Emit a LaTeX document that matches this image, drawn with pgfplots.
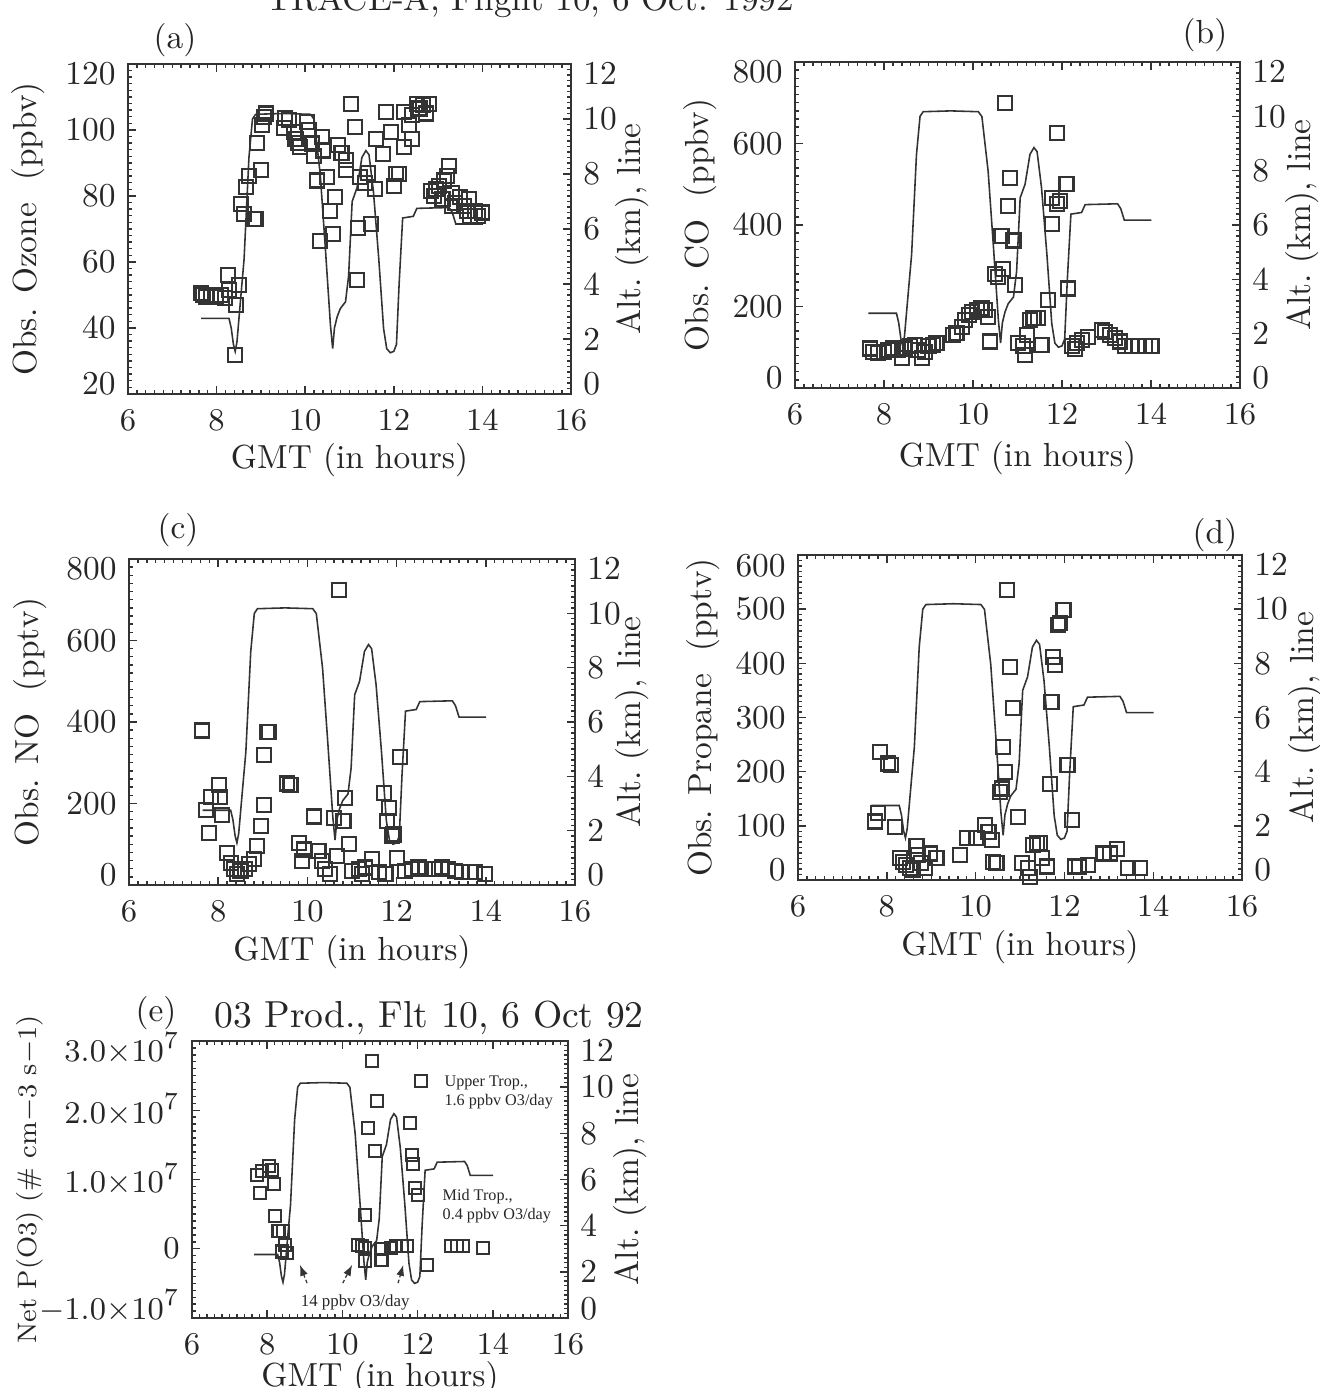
\documentclass[border=0pt]{standalone}
\usepackage{fontspec}
\usepackage{pgfplots}
\pgfplotsset{compat=1.18}
\usepackage{pgfplotstable}
\usetikzlibrary{arrows.meta}
\newfontfamily\annotfont{Liberation Serif}

% end labels of the y axes sit a little inside the box, as in the scan
\newcommand{\topl}[1]{\smash{\raisebox{-2.1mm}{#1}}}
\newcommand{\botl}[1]{\smash{\raisebox{-0.1mm}{#1}}}

% flight altitude (km), same track in every panel
\pgfplotstableread{
t alt
7.65 2.75
8.28 2.75
8.33 2.4
8.38 1.8
8.42 1.55
8.46 1.9
8.55 3.6
8.62 4.9
8.73 8.6
8.81 10.0
8.88 10.17
9.50 10.2
10.12 10.17
10.20 9.99
10.34 7.98
10.46 5.18
10.57 2.5
10.62 1.65
10.66 2.4
10.72 2.8
10.79 3.1
10.91 3.35
10.98 4.3
11.06 7.0
11.17 7.5
11.28 8.6
11.37 8.85
11.44 8.7
11.54 7.37
11.66 4.93
11.77 2.37
11.84 1.65
11.92 1.5
12.00 1.55
12.06 1.8
12.12 4.0
12.20 6.4
12.44 6.46
12.52 6.75
13.25 6.78
13.32 6.6
13.40 6.18
14.01 6.18
}\altprofile

\pgfplotstableread{
t v
7.65 50.5
7.70 50
7.77 49.5
7.88 50
7.99 49.5
8.10 50
8.18 49
8.25 56
8.29 51.6
8.44 47
8.51 53
8.41 31.7
8.55 77.5
8.62 74.5
8.66 82.6
8.73 86
8.85 73
8.88 73
9.00 88
8.92 96
9.03 101.5
9.07 104
9.11 105
9.55 103.5
9.63 103
9.52 100.5
9.74 99.4
9.78 97.4
9.89 94.8
9.85 96
10.04 102.5
10.08 100
10.15 95.9
10.19 92
10.37 98
10.41 93.8
10.26 84.7
10.49 85.7
10.67 79.6
10.56 75.5
10.63 68.4
10.34 66.3
10.75 95.4
10.82 93
10.93 91
10.93 88
11.04 108
11.12 101
11.23 85.7
11.34 84
11.42 87
11.57 82
11.19 70.4
11.49 71.4
11.16 54.6
11.60 97.4
11.75 92.8
11.83 105.5
11.94 99.4
12.05 86.7
12.12 86.7
12.01 83
12.24 105.5
12.24 94.8
12.35 101.5
12.42 97.4
12.42 104.5
12.53 108
12.58 106.5
12.65 107.6
12.72 105
12.80 108
12.83 81.6
12.91 80
12.95 82
13.02 83
13.13 84.7
13.24 89
13.20 86
13.10 79
13.32 81
13.39 78
13.50 79.6
13.58 77
13.65 75.5
13.73 74
13.84 75.5
13.91 74
13.99 75
13.32 77
13.69 79
}\ozone

\pgfplotstableread{
t v
7.69 97
7.76 89
7.87 85
7.99 89
8.10 93
8.21 97
8.32 93
8.40 73
8.47 97
8.58 102
8.70 106
8.77 93
8.85 73
8.92 89
9.00 102
9.11 106
9.18 110
9.56 130
9.63 134
9.75 150
9.82 167
9.90 179
9.97 187
10.08 191
10.19 195
10.27 191
10.34 175
10.38 114
10.49 280
10.57 272
10.68 292
10.64 374
10.72 699
10.83 516
10.79 447
10.91 362
10.94 252
11.02 110
11.13 102
11.17 81
11.22 130
11.28 167
11.36 171
11.47 171
11.54 106
11.69 215
11.77 467
11.88 451
11.96 459
11.77 402
11.88 626
12.10 500
12.14 244
12.22 102
12.30 95
12.33 110
12.44 118
12.59 126
12.89 142
12.97 138
13.08 130
13.19 122
13.30 114
13.42 102
13.57 102
13.72 102
13.87 102
14.01 102
}\co

\pgfplotstableread{
t v
7.64 379
7.79 128
7.72 185
7.83 217
8.01 245
8.05 217
8.09 172
8.20 79
8.28 55
8.35 39
8.43 27
8.50 35
8.61 39
8.69 51
8.80 63
8.87 96
8.95 144
9.02 197
9.02 318
9.10 375
9.13 375
9.54 249
9.62 245
9.81 104
9.92 87
9.88 59
10.14 168
10.25 83
10.33 59
10.40 39
10.51 27
10.59 164
10.66 71
10.70 723
10.81 156
10.85 213
10.93 100
11.00 35
11.15 39
11.22 27
11.30 43
11.45 63
11.60 31
11.75 27
11.71 225
11.82 189
11.78 156
11.90 120
11.93 124
12.00 67
12.08 314
12.19 35
12.34 39
12.49 43
12.64 39
12.87 39
13.01 43
13.16 39
13.31 35
13.46 31
13.65 31
13.76 31
13.99 27
}\no

\pgfplotstableread{
t v
7.73 108
7.80 123
7.84 237
8.03 215
8.10 212
8.18 98
8.29 40
8.37 34
8.44 28
8.52 22
8.59 18
8.67 62
8.71 46
8.78 31
8.86 22
8.97 49
9.12 40
9.65 46
9.80 77
10.02 77
10.21 102
10.29 89
10.36 74
10.40 34
10.47 31
10.55 163
10.59 169
10.62 246
10.66 200
10.70 535
10.77 394
10.85 317
10.96 117
11.04 31
11.19 22
11.23 6
11.30 65
11.38 68
11.45 68
11.49 40
11.60 25
11.68 178
11.71 329
11.75 412
11.79 397
11.86 471
11.90 474
11.98 498
12.05 212
12.09 212
12.17 111
12.24 25
12.32 25
12.54 28
12.88 49
13.03 49
13.18 58
13.44 22
13.71 22
}\propane

\pgfplotstableread{
t v
7.73 1.07e7
7.86 1.12e7
8.04 1.19e7
8.12 1.14e7
8.17 0.93e7
7.81 0.81e7
8.21 0.47e7
8.30 0.25e7
8.43 0.25e7
8.48 0.06e7
8.39 -0.04e7
8.52 -0.06e7
10.42 0.06e7
10.51 0.04e7
10.60 0.01e7
10.60 -0.18e7
10.60 0.49e7
10.78 2.71e7
10.91 2.13e7
10.69 1.75e7
10.87 1.41e7
11.04 -0.01e7
11.04 -0.16e7
11.30 0.01e7
11.42 0.04e7
11.58 0.04e7
11.71 0.04e7
11.80 1.82e7
11.84 1.36e7
11.88 1.22e7
11.93 0.88e7
12.02 0.78e7
12.10 2.42e7
12.24 -0.23e7
12.90 0.04e7
13.04 0.04e7
13.21 0.04e7
13.74 0.01e7
}\prod

\pgfplotsset{
  trace/.style={
    scale only axis, xmin=6, xmax=16, xtick={6,8,...,16},
    minor x tick num=9, minor y tick num=9,
    tick align=inside, major tick length=0.8mm, minor tick length=0.4mm,
    axis line style={black!80, line width=0.5pt},
    every tick/.style={black!80, line width=0.4pt},
    tick label style={font=\fontsize{9.5}{11}\selectfont, text=black!85},
    xticklabel style={yshift=-0.4mm},
    label style={font=\fontsize{9.5}{11}\selectfont, text=black!85},
    ylabel style={anchor=center},
    xlabel style={anchor=center},
  },
  obs/.style={trace, xtick pos=both, xticklabel pos=lower, ytick pos=left,
    xlabel={GMT (in hours)}},
  altaxis/.style={trace, hide x axis, ymin=0, ymax=12, ytick={0,2,...,12},
    yticklabels={\botl{0},2,4,6,8,10,\topl{12}},
    ytick pos=right, yticklabel pos=right, ylabel={Alt.\ (km), line}},
  sq/.style={only marks, mark=square, mark size=0.7mm,
    mark options={draw=black!80, line width=0.6pt}},
  altline/.style={black!80, line width=0.45pt, no marks},
}

\begin{document}
\begin{tikzpicture}
\tikzset{every node/.style={text=black!85}}
\newcommand{\lbl}{\fontsize{9.5}{11}\selectfont}

\node[anchor=base, font=\fontsize{10}{12}\selectfont] at (53mm,137.7mm) {TRACE-A, Flight 10, 6 Oct. 1992};

% (a) ozone
\begin{axis}[obs, at={(12.8mm,99.4mm)}, width=44.3mm, height=33mm,
  ymin=20, ymax=120, ytick={20,40,...,120},
  yticklabels={\botl{20},40,60,80,100,\topl{120}},
  ylabel={Obs. Ozone\ \ (ppbv)},
  ylabel style={at={(axis description cs:-0.226,0.5)}},
  xlabel style={at={(axis description cs:0.5,-0.2)}}]
\addplot[sq] table[x=t,y=v] {\ozone};
\end{axis}
\begin{axis}[altaxis, at={(12.8mm,99.4mm)}, width=44.3mm, height=33mm,
  ylabel style={at={(axis description cs:1.138,0.5)}}]
\addplot[altline] table[x=t,y=alt] {\altprofile};
\end{axis}
\node[font=\lbl] at (17.5mm,134.8mm) {(a)};

% (b) CO
\begin{axis}[obs, at={(79.5mm,100mm)}, width=44.5mm, height=32.6mm,
  ymin=0, ymax=800, ytick={0,200,...,800},
  yticklabels={\botl{0},200,400,600,\topl{800}},
  ylabel={Obs. CO\ \ (ppbv)},
  ylabel style={at={(axis description cs:-0.213,0.5)}},
  xlabel style={at={(axis description cs:0.5,-0.215)}}]
\addplot[sq] table[x=t,y=v] {\co};
\end{axis}
\begin{axis}[altaxis, at={(79.5mm,100mm)}, width=44.5mm, height=32.6mm,
  ylabel style={at={(axis description cs:1.139,0.5)}}]
\addplot[altline] table[x=t,y=alt] {\altprofile};
\end{axis}
\node[font=\lbl] at (120.5mm,135.3mm) {(b)};

% (c) NO
\begin{axis}[obs, at={(12.9mm,50.3mm)}, width=44.6mm, height=32.6mm,
  ymin=0, ymax=800, ytick={0,200,...,800},
  yticklabels={\botl{0},200,400,600,\topl{800}},
  ylabel={Obs. NO\ \ (pptv)},
  ylabel style={at={(axis description cs:-0.222,0.5)}},
  xlabel style={at={(axis description cs:0.5,-0.206)}}]
\addplot[sq] table[x=t,y=v] {\no};
\end{axis}
\begin{axis}[altaxis, at={(12.9mm,50.3mm)}, width=44.6mm, height=32.6mm,
  ylabel style={at={(axis description cs:1.128,0.5)}}]
\addplot[altline] table[x=t,y=alt] {\altprofile};
\end{axis}
\node[font=\lbl] at (17.8mm,85.8mm) {(c)};

% (d) propane
\begin{axis}[obs, at={(79.8mm,50.8mm)}, width=44.4mm, height=32.5mm,
  ymin=0, ymax=600, ytick={0,100,...,600},
  yticklabels={\botl{0},100,200,300,400,500,\topl{600}},
  ylabel={Obs. Propane\ \ (pptv)},
  ylabel style={at={(axis description cs:-0.214,0.5)}},
  xlabel style={at={(axis description cs:0.5,-0.206)}}]
\addplot[sq] table[x=t,y=v] {\propane};
\end{axis}
\begin{axis}[altaxis, at={(79.8mm,50.8mm)}, width=44.4mm, height=32.5mm,
  ylabel style={at={(axis description cs:1.142,0.5)}}]
\addplot[altline] table[x=t,y=alt] {\altprofile};
\end{axis}
\node[font=\lbl] at (121.5mm,85.3mm) {(d)};

% (e) net ozone production
\begin{axis}[obs, at={(19.2mm,7mm)}, width=37.6mm, height=27.7mm,
  ymin=-1e7, ymax=3e7, ytick={-1e7,0,1e7,2e7,3e7},
  yticklabels={\botl{$-1.0{\times}10^7$},$0$,$1.0{\times}10^7$,$2.0{\times}10^7$,\topl{$3.0{\times}10^7$}},
  scaled y ticks=false,
  ylabel={Net P(O3) (\# cm$-$3 s$-$1)},
  ylabel style={at={(axis description cs:-0.431,0.5)}, font=\fontsize{7.6}{9}\selectfont},
  xlabel style={at={(axis description cs:0.5,-0.217)}}]
\addplot[sq, mark size=0.6mm] table[x=t,y=v] {\prod};
\node[anchor=west, align=left, inner sep=0pt, font=\annotfont\fontsize{4.6}{5.4}\selectfont]
  at (rel axis cs:0.67,0.816) {Upper Trop.,\\1.6 ppbv O3/day};
\node[anchor=west, align=left, inner sep=0pt, font=\annotfont\fontsize{4.6}{5.4}\selectfont]
  at (rel axis cs:0.665,0.404) {Mid Trop.,\\0.4 ppbv O3/day};
\node[font=\annotfont\fontsize{4.8}{5.6}\selectfont]
  at (rel axis cs:0.434,0.056) {14 ppbv O3/day};
\draw[-{Latex[length=1.1mm,width=0.8mm]}, black!80, line width=0.35pt, dash pattern=on 1pt off 0.7pt]
  (rel axis cs:0.306,0.126) -- (rel axis cs:0.287,0.192);
\draw[-{Latex[length=1.1mm,width=0.8mm]}, black!80, line width=0.35pt, dash pattern=on 1pt off 0.7pt]
  (rel axis cs:0.401,0.126) -- (rel axis cs:0.426,0.192);
\draw[-{Latex[length=1.1mm,width=0.8mm]}, black!80, line width=0.35pt, dash pattern=on 1pt off 0.7pt]
  (rel axis cs:0.548,0.126) -- (rel axis cs:0.562,0.192);
\end{axis}
\begin{axis}[altaxis, at={(19.2mm,7mm)}, width=37.6mm, height=27.7mm,
  ylabel style={at={(axis description cs:1.165,0.5)}}]
\addplot[altline] table[x=t,y=alt] {\altprofile};
\end{axis}
\node[font=\lbl] at (15.6mm,37.5mm) {(e)};
\node[font=\fontsize{10.7}{12}\selectfont] at (42.9mm,37mm) {03 Prod., Flt 10, 6 Oct 92};

\pgfresetboundingbox
\path[use as bounding box] (0,0) rectangle (132mm,138.8mm);
\end{tikzpicture}
\end{document}
